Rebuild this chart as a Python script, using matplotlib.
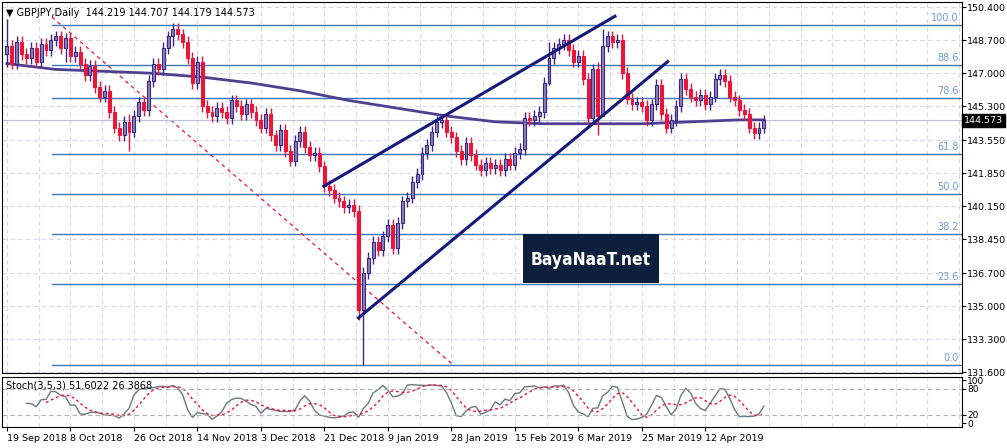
import numpy as np
import matplotlib
matplotlib.use("Agg")
import matplotlib.pyplot as plt
from matplotlib.patches import Rectangle

# daily closes, GBPJPY 19 Sep 2018 .. 19 Apr 2019
closes = [
    148.4, 147.5, 148.6, 148.0, 147.8, 148.3, 147.6, 148.5, 148.2, 148.7,
    148.9, 148.3, 148.8, 147.9, 148.1, 147.5, 146.9, 147.4, 146.3, 145.8,
    146.1, 145.0, 144.2, 143.8, 144.5, 144.0, 144.8, 145.5, 145.1, 146.6,
    147.5, 147.2, 148.3, 148.9, 149.3, 149.0, 148.6, 147.8, 146.5, 147.6,
    145.3, 145.0, 144.8, 145.2, 145.0, 144.7, 145.6, 145.3, 144.9, 145.4,
    145.0, 144.6, 144.2, 144.9, 143.8, 143.3, 144.1, 143.0, 142.5, 143.5,
    144.0, 143.2, 142.8, 142.9, 142.2, 141.2, 141.0, 140.6, 140.4, 140.1,
    140.2, 139.9, 134.8, 136.7, 137.5, 138.3, 137.9, 138.6, 139.2, 138.0,
    139.3, 140.4, 140.6, 141.4, 141.8, 142.9, 143.3, 144.0, 144.5, 144.6,
    144.0, 143.7, 143.0, 142.6, 143.4, 142.8, 142.3, 142.0, 142.4, 142.1,
    142.3, 142.0, 142.6, 142.3, 142.9, 143.1, 144.7, 144.6, 144.8, 145.0,
    146.5, 147.8, 148.3, 148.5, 148.7, 148.2, 147.6, 147.9, 146.7, 144.7,
    147.2, 144.8, 148.4, 148.9, 148.6, 148.7, 147.0, 145.7, 145.4, 145.5,
    145.3, 144.6, 145.4, 146.4, 144.9, 144.2, 144.6, 145.3, 146.7, 146.2,
    145.8, 145.6, 145.9, 145.4, 145.8, 146.7, 146.9, 146.6, 145.8, 145.6,
    145.1, 144.9, 144.2, 143.9, 144.2, 144.573,
]
first_open = 148.0
# notable wicks (bar index -> (high, low))
wick_extremes = {0: (149.8, 147.3), 12: (149.1, 147.6), 34: (149.6, 148.4),
                 25: (144.9, 143.0), 73: (137.0, 131.97), 72: (140.2, 134.3),
                 122: (149.3, 146.0), 121: (147.6, 143.8), 111: (148.6, 146.4)}

sma_idx = [0, 10, 20, 30, 40, 50, 60, 70, 80, 90, 100, 110, 120, 130, 140, 150, 155]
sma_val = [147.5, 147.2, 147.1, 147.0, 146.8, 146.5, 146.1, 145.6, 145.2, 144.8,
           144.5, 144.4, 144.4, 144.4, 144.5, 144.6, 144.6]

fib_levels = ["100.0", "88.6", "78.6", "61.8", "50.0", "38.2", "23.6", "0.0"]
fib_prices = [149.47, 147.41, 145.71, 142.83, 140.77, 138.71, 136.13, 131.97]

upper_chan = ([64.9, 124.5], [141.18, 149.94])
lower_chan = ([72.0, 135.3], [134.4, 147.6])
fib_trend = ([9.2, 91.4], [149.9, 131.97])

date_idx = [0, 13, 26, 39, 52, 65, 78, 91, 104, 117, 130, 143]
date_lbl = ["19 Sep 2018", "8 Oct 2018", "26 Oct 2018", "14 Nov 2018", "3 Dec 2018",
            "21 Dec 2018", "9 Jan 2019", "28 Jan 2019", "15 Feb 2019", "6 Mar 2019",
            "25 Mar 2019", "12 Apr 2019"]
price_ticks = [150.4, 148.7, 147.0, 145.3, 143.55, 141.85, 140.15, 138.45, 136.7,
               135.0, 133.3, 131.6]

BULL_E, BULL_F, BEAR = "#3f2585", "#8b82b4", "#e8173a"
FIBC = "#3b78b3"

c = np.array(closes)
o = np.concatenate([[first_open], c[:-1]])
h = np.maximum(o, c) + 0.3
l = np.minimum(o, c) - 0.3
for k, (hi, lo) in wick_extremes.items():
    h[k], l[k] = hi, lo
n = len(c)
x = np.arange(n)

# Stochastic (K=3, D=5, slowing=3) from the bars
kp, dp, sp = 3, 5, 3
raw_num = np.full(n, np.nan)
raw_den = np.full(n, np.nan)
for i in range(kp - 1, n):
    lo, hi = l[i - kp + 1:i + 1].min(), h[i - kp + 1:i + 1].max()
    raw_num[i], raw_den[i] = c[i] - lo, hi - lo
K = np.full(n, np.nan)
for i in range(kp - 1 + sp - 1, n):
    K[i] = 100 * raw_num[i - sp + 1:i + 1].sum() / raw_den[i - sp + 1:i + 1].sum()
D = np.full(n, np.nan)
for i in range(n):
    w = K[max(0, i - dp + 1):i + 1]
    if i >= kp + sp + dp - 3:
        D[i] = np.nanmean(w)

fig = plt.figure(figsize=(10.07, 4.48), dpi=100)
ax = fig.add_axes([0.002, 0.167, 0.953, 0.828])
axs = fig.add_axes([0.002, 0.047, 0.953, 0.112], sharex=ax)

xmax = 195.5
for a in (ax, axs):
    for t in list(date_idx) + list(range(156, 196, 13)):
        a.axvline(t, color="#d8d8ea", ls=(0, (4, 3)), lw=0.8, zorder=0)
        a.axvline(t + 6.5, color="#d8d8ea", ls=(0, (4, 3)), lw=0.8, zorder=0)
for p in price_ticks:
    ax.axhline(p, color="#d8d8ea", ls=(0, (4, 3)), lw=0.8, zorder=0)

# fib levels
for lab, p in zip(fib_levels, fib_prices):
    ax.plot([fib_trend[0][0], xmax], [p, p], color=FIBC, lw=1.0, zorder=1)
    ax.text(xmax - 0.6, p + 0.12, lab, color="#6f9bd0", fontsize=7,
            ha="right", va="bottom")
ax.plot(*fib_trend, color="#e8173a", lw=0.9, ls=(0, (3, 3)), zorder=1)

# candles
for i in range(n):
    bull = c[i] >= o[i]
    col = BULL_E if bull else BEAR
    ax.vlines(x[i], l[i], h[i], color=col, lw=1.0, zorder=3)
    bot, top = min(o[i], c[i]), max(o[i], c[i])
    ax.add_patch(Rectangle((x[i] - 0.3, bot), 0.6, max(top - bot, 0.05),
                           facecolor=BULL_F if bull else BEAR, edgecolor=col,
                           lw=0.8, zorder=4))

ax.plot(sma_idx, sma_val, color="#4e3f8f", lw=2.0, zorder=2)
ax.plot(*upper_chan, color="#151a7a", lw=2.2, zorder=5)
ax.plot(*lower_chan, color="#151a7a", lw=2.2, zorder=5)

ax.set_xlim(-1, xmax)
ax.set_ylim(131.55, 150.66)
ax.yaxis.tick_right()
ax.set_yticks(price_ticks)
ax.set_yticklabels([f"{p:.3f}" for p in price_ticks], fontsize=6.8)
ax.tick_params(axis="y", length=3, pad=1)
ax.tick_params(axis="x", bottom=False, labelbottom=False)
ax.axhline(c[-1], color="#c0c0d8", lw=0.8, zorder=1)
ax.text(1.002, (c[-1] - 131.55) / (150.66 - 131.55), f"{c[-1]:.3f}",
        transform=ax.transAxes, color="white", fontsize=6.8, va="center",
        ha="left", bbox=dict(boxstyle="square,pad=0.2", fc="black", ec="black"))
ax.text(0.004, 0.985, "\u25bc GBPJPY,Daily  144.219 144.707 144.179 144.573",
        transform=ax.transAxes, fontsize=7, va="top", ha="left")

# watermark box
fig.patches.append(Rectangle((523 / 1007, 1 - 283 / 448), 136 / 1007, 49 / 448,
                             transform=fig.transFigure, fc="#0c1f3d", ec="none",
                             zorder=10))
fig.text(591 / 1007, 1 - 260 / 448, "BayaNaaT.net", color="white", fontsize=12.5,
         ha="center", va="center", fontweight="bold", fontstretch="condensed",
         family="Liberation Sans Narrow", zorder=11)

# stochastic
axs.plot(x, K, color="#6e7680", lw=1.0)
axs.plot(x, D, color="#e8173a", lw=1.0, ls=(0, (2, 2)))
for lv in (80, 20):
    axs.axhline(lv, color="#b0b0b0", lw=0.8, ls=(0, (4, 3)))
axs.set_ylim(-8, 108)
axs.yaxis.tick_right()
axs.set_yticks([100, 80, 20, 0])
axs.set_yticklabels(["100", "80", "20", "0"], fontsize=6.5)
axs.tick_params(axis="y", length=3, pad=1)
axs.text(0.004, 0.93, "Stoch(3,5,3) 51.6022 26.3868", transform=axs.transAxes,
         fontsize=7, va="top")
axs.set_xticks(date_idx)
axs.set_xticklabels(date_lbl, fontsize=6.8, ha="left")
axs.tick_params(axis="x", length=3, pad=2)

fig.savefig("out.png", dpi=100)
